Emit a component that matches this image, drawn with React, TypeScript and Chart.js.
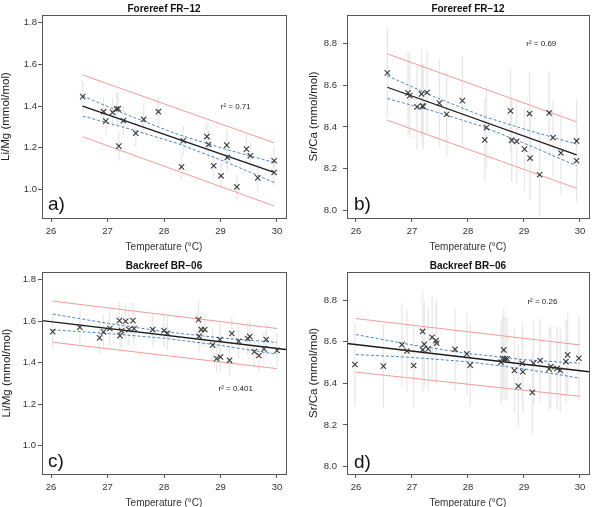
import React, { useEffect, useRef } from 'react';
import { Chart, registerables } from 'chart.js';
Chart.register(...registerables);

// ---------- shared ticks ----------
const xTicks = [26, 27, 28, 29, 30];
const yTicksLiMg = [1.0, 1.2, 1.4, 1.6, 1.8];
const yTicksSrCa = [8.0, 8.2, 8.4, 8.6, 8.8];

// ---------- panel a : Forereef FR-12, Li/Mg ----------
const tempA = [26.56, 26.93, 26.97, 27.09, 27.16, 27.19, 27.2, 27.28, 27.5, 27.64, 27.9, 28.31, 28.34, 28.76, 28.79, 28.88, 29.01, 29.11, 29.12, 29.29, 29.46, 29.53, 29.66, 29.95, 29.95];
const liMgA = [1.445, 1.373, 1.328, 1.370, 1.386, 1.387, 1.208, 1.330, 1.270, 1.336, 1.373, 1.109, 1.234, 1.254, 1.216, 1.114, 1.066, 1.213, 1.154, 1.013, 1.194, 1.162, 1.056, 1.138, 1.082];
const errA = [0.075, 0.07, 0.065, 0.07, 0.08, 0.075, 0.07, 0.07, 0.065, 0.07, 0.07, 0.065, 0.07, 0.07, 0.07, 0.065, 0.065, 0.07, 0.065, 0.06, 0.07, 0.065, 0.065, 0.07, 0.065];
const fitXA = [26.56, 29.95];
const fitYA = [1.40, 1.082];
const predUpA = [1.549, 1.224];
const predLoA = [1.253, 0.922];
const confXA = [26.56, 27.41, 28.26, 29.1, 29.95];
const confUpA = [1.448, 1.351, 1.263, 1.192, 1.130];
const confLoA = [1.352, 1.289, 1.219, 1.132, 1.034];

// ---------- panel b : Forereef FR-12, Sr/Ca ----------
const tempB = [26.56, 26.93, 26.96, 27.09, 27.17, 27.19, 27.2, 27.27, 27.49, 27.62, 27.9, 28.3, 28.33, 28.76, 28.78, 28.87, 29.01, 29.1, 29.11, 29.28, 29.45, 29.52, 29.66, 29.94, 29.94];
const srCaB = [8.659, 8.563, 8.550, 8.496, 8.558, 8.501, 8.498, 8.565, 8.514, 8.461, 8.526, 8.338, 8.397, 8.477, 8.336, 8.331, 8.294, 8.464, 8.251, 8.171, 8.467, 8.349, 8.275, 8.333, 8.238];
const errB = [0.21, 0.2, 0.2, 0.2, 0.21, 0.2, 0.2, 0.2, 0.21, 0.2, 0.21, 0.2, 0.2, 0.2, 0.2, 0.2, 0.2, 0.2, 0.2, 0.2, 0.2, 0.18, 0.2, 0.2, 0.2];
const fitXB = [26.56, 29.94];
const fitYB = [8.590, 8.266];
const predUpB = [8.750, 8.424];
const predLoB = [8.432, 8.106];
const confXB = [26.56, 27.405, 28.25, 29.095, 29.94];
const confUpB = [8.645, 8.544, 8.453, 8.382, 8.318];
const confLoB = [8.536, 8.474, 8.403, 8.312, 8.214];

// ---------- panel c : Backreef BR-06, Li/Mg ----------
const tempC = [26.03, 26.51, 26.86, 26.93, 27.04, 27.21, 27.22, 27.25, 27.32, 27.38, 27.45, 27.47, 27.8, 28.0, 28.06, 28.61, 28.62, 28.66, 28.72, 28.86, 28.93, 28.99, 29.0, 29.16, 29.2, 29.32, 29.48, 29.52, 29.6, 29.68, 29.77, 29.81, 30.0];
const liMgC = [1.549, 1.570, 1.519, 1.548, 1.564, 1.602, 1.530, 1.554, 1.599, 1.559, 1.602, 1.564, 1.559, 1.554, 1.541, 1.607, 1.527, 1.559, 1.559, 1.484, 1.419, 1.511, 1.427, 1.411, 1.540, 1.503, 1.516, 1.525, 1.453, 1.434, 1.466, 1.511, 1.459];
const errC = [0.08, 0.08, 0.08, 0.08, 0.08, 0.09, 0.08, 0.08, 0.09, 0.08, 0.09, 0.08, 0.08, 0.08, 0.08, 0.09, 0.08, 0.08, 0.08, 0.08, 0.07, 0.08, 0.07, 0.07, 0.08, 0.08, 0.08, 0.08, 0.08, 0.08, 0.08, 0.08, 0.08];
const fitXC = [25.84, 30.16];
const fitYC = [1.602, 1.463];
const predXC = [26.03, 30.0];
const predUpC = [1.696, 1.564];
const predLoC = [1.498, 1.371];
const confXC = [26.03, 27.02, 28.01, 29.0, 30.0];
const confUpC = [1.634, 1.588, 1.549, 1.519, 1.497];
const confLoC = [1.558, 1.540, 1.517, 1.483, 1.440];

// ---------- panel d : Backreef BR-06, Sr/Ca ----------
const tempD = [25.98, 26.49, 26.82, 26.91, 27.03, 27.19, 27.19, 27.22, 27.29, 27.36, 27.43, 27.44, 27.77, 27.98, 28.04, 28.59, 28.62, 28.64, 28.66, 28.7, 28.83, 28.9, 28.97, 28.98, 29.15, 29.17, 29.29, 29.45, 29.48, 29.59, 29.65, 29.75, 29.78, 29.98];
const srCaD = [8.491, 8.483, 8.586, 8.556, 8.486, 8.650, 8.561, 8.588, 8.566, 8.622, 8.606, 8.593, 8.564, 8.542, 8.488, 8.502, 8.520, 8.561, 8.518, 8.518, 8.462, 8.387, 8.496, 8.456, 8.357, 8.497, 8.510, 8.470, 8.481, 8.472, 8.462, 8.505, 8.537, 8.521];
const errD = [0.2, 0.2, 0.2, 0.2, 0.2, 0.2, 0.2, 0.21, 0.2, 0.2, 0.2, 0.2, 0.2, 0.2, 0.2, 0.2, 0.2, 0.2, 0.2, 0.2, 0.2, 0.2, 0.2, 0.2, 0.2, 0.2, 0.2, 0.2, 0.2, 0.2, 0.2, 0.2, 0.2, 0.2];
const fitXD = [25.84, 30.16];
const fitYD = [8.592, 8.456];
const predXD = [26.0, 30.0];
const predUpD = [8.712, 8.585];
const predLoD = [8.454, 8.338];
const confXD = [26.0, 27.0, 28.0, 29.0, 30.0];
const confUpD = [8.635, 8.585, 8.544, 8.514, 8.497];
const confLoD = [8.539, 8.525, 8.504, 8.470, 8.425];

const pts = (xs: number[], ys: number[]) => xs.map((x, i) => ({ x, y: ys[i] }));

const RED = '#f39a9a';
const BLUE = '#4a86c5';
const FONT = 'Liberation Sans, Arial, Helvetica, sans-serif';

type PanelCfg = {
  left: number; top: number; w: number; h: number;
  areaLeft: number; padRight: number; padTop: number; xHeight: number;
  title: string; yTitle: string; yTitlePad: number; yTickPad: number; xTitleLH: number; xTitlePad: number;
  yMin: number; yMax: number; yTicks: number[];
  xs: number[]; ys: number[]; errs: number[];
  fitX: number[]; fitY: number[]; predX: number[]; predUp: number[]; predLo: number[];
  confX: number[]; confUp: number[]; confLo: number[];
  r2: string; r2x: number; r2y: number; tag: string; tagDx: number; tagDy: number;
};

const panels: PanelCfg[] = [
  {
    left: 0, top: 0, w: 297, h: 253, areaLeft: 42, padRight: 11, padTop: 15, xHeight: 35,
    title: 'Forereef FR\u221212', yTitle: 'Li/Mg (mmol/mol)', yTitlePad: 0, yTickPad: 1, xTitleLH: 1, xTitlePad: 1,
    yMin: 0.864, yMax: 1.836, yTicks: yTicksLiMg,
    xs: tempA, ys: liMgA, errs: errA, fitX: fitXA, fitY: fitYA, predX: fitXA, predUp: predUpA, predLo: predLoA,
    confX: confXA, confUp: confUpA, confLo: confLoA,
    r2: '0.71', r2x: 29.27, r2y: 1.395, tag: 'a)', tagDx: 6, tagDy: 8,
  },
  {
    left: 297, top: 0, w: 297, h: 253, areaLeft: 50, padRight: 4, padTop: 15, xHeight: 35,
    title: 'Forereef FR\u221212', yTitle: 'Sr/Ca (mmol/mol)', yTitlePad: 11, yTickPad: 6, xTitleLH: 1, xTitlePad: 1,
    yMin: 7.964, yMax: 8.936, yTicks: yTicksSrCa,
    xs: tempB, ys: srCaB, errs: errB, fitX: fitXB, fitY: fitYB, predX: fitXB, predUp: predUpB, predLo: predLoB,
    confX: confXB, confUp: confUpB, confLo: confLoB,
    r2: '0.69', r2x: 29.31, r2y: 8.799, tag: 'b)', tagDx: 7, tagDy: 8,
  },
  {
    left: 0, top: 253, w: 297, h: 254, areaLeft: 42, padRight: 11, padTop: 19, xHeight: 33,
    title: 'Backreef BR\u221206', yTitle: 'Li/Mg (mmol/mol)', yTitlePad: 1, yTickPad: 2, xTitleLH: 0.8, xTitlePad: 0,
    yMin: 0.864, yMax: 1.836, yTicks: yTicksLiMg,
    xs: tempC, ys: liMgC, errs: errC, fitX: fitXC, fitY: fitYC, predX: predXC, predUp: predUpC, predLo: predLoC,
    confX: confXC, confUp: confUpC, confLo: confLoC,
    r2: '0.401', r2x: 29.27, r2y: 1.272, tag: 'c)', tagDx: 6, tagDy: 7,
  },
  {
    left: 297, top: 253, w: 297, h: 254, areaLeft: 50, padRight: 4, padTop: 19, xHeight: 33,
    title: 'Backreef BR\u221206', yTitle: 'Sr/Ca (mmol/mol)', yTitlePad: 11, yTickPad: 6, xTitleLH: 0.8, xTitlePad: 0,
    yMin: 7.964, yMax: 8.936, yTicks: yTicksSrCa,
    xs: tempD, ys: srCaD, errs: errD, fitX: fitXD, fitY: fitYD, predX: predXD, predUp: predUpD, predLo: predLoD,
    confX: confXD, confUp: confUpD, confLo: confLoD,
    r2: '0.26', r2x: 29.33, r2y: 8.793, tag: 'd)', tagDx: 7, tagDy: 6,
  },
];

const decorPlugin = {
  id: 'decor',
  beforeDatasetsDraw(chart: any) {
    const cfg = chart.options.plugins.decor as PanelCfg;
    const { ctx, chartArea } = chart;
    const xs = chart.scales.x, ys = chart.scales.y;
    ctx.save();
    ctx.beginPath();
    ctx.rect(chartArea.left, chartArea.top, chartArea.right - chartArea.left, chartArea.bottom - chartArea.top);
    ctx.clip();
    ctx.strokeStyle = '#e8e8e8';
    ctx.lineWidth = 1.3;
    cfg.xs.forEach((x, i) => {
      const px = xs.getPixelForValue(x);
      ctx.beginPath();
      ctx.moveTo(px, ys.getPixelForValue(cfg.ys[i] - cfg.errs[i]));
      ctx.lineTo(px, ys.getPixelForValue(cfg.ys[i] + cfg.errs[i]));
      ctx.stroke();
    });
    ctx.restore();
  },
  afterDraw(chart: any) {
    const cfg = chart.options.plugins.decor as PanelCfg;
    const { ctx, chartArea } = chart;
    const xs = chart.scales.x, ys = chart.scales.y;
    ctx.save();
    // box
    ctx.strokeStyle = '#555';
    ctx.lineWidth = 1;
    ctx.strokeRect(Math.round(chartArea.left) + 0.5, Math.round(chartArea.top) + 0.5,
      Math.round(chartArea.right - chartArea.left), Math.round(chartArea.bottom - chartArea.top));
    // title
    ctx.fillStyle = '#111';
    ctx.font = `bold 10px ${FONT}`;
    ctx.textAlign = 'center';
    ctx.textBaseline = 'middle';
    ctx.fillText(cfg.title, (chartArea.left + chartArea.right) / 2, chartArea.top - 6);
    // r^2
    ctx.font = `8px ${FONT}`;
    ctx.fillStyle = '#222';
    ctx.fillText(`r\u00B2 = ${cfg.r2}`, xs.getPixelForValue(cfg.r2x), ys.getPixelForValue(cfg.r2y));
    // panel tag
    ctx.font = `19px ${FONT}`;
    ctx.textAlign = 'left';
    ctx.textBaseline = 'alphabetic';
    ctx.fillStyle = '#111';
    ctx.fillText(cfg.tag, chartArea.left + cfg.tagDx, chartArea.bottom - cfg.tagDy);
    ctx.restore();
  },
};

function makeChart(canvas: HTMLCanvasElement, p: PanelCfg) {
  const lineDs = (data: any[], color: string, width: number, dash: number[] = []) => ({
    data, showLine: true, borderColor: color, borderWidth: width, borderDash: dash,
    pointRadius: 0, fill: false, tension: 0,
  });
  return new Chart(canvas, {
    type: 'scatter',
    data: {
      datasets: [
        {
          data: pts(p.xs, p.ys), pointStyle: 'crossRot', pointRadius: 3.8, pointBorderWidth: 1.1,
          borderColor: '#3a3a3a', backgroundColor: '#3a3a3a', showLine: false,
        } as any,
        lineDs(pts(p.fitX, p.fitY), '#1a1a1a', 1.3),
        lineDs(pts(p.confX, p.confUp), BLUE, 1, [3, 2]),
        lineDs(pts(p.confX, p.confLo), BLUE, 1, [3, 2]),
        lineDs(pts(p.predX, p.predUp), RED, 1),
        lineDs(pts(p.predX, p.predLo), RED, 1),
      ],
    },
    options: {
      animation: false,
      responsive: false,
      maintainAspectRatio: false,
      devicePixelRatio: 1,
      layout: { padding: { left: 0, right: p.padRight, top: p.padTop, bottom: 0 } },
      plugins: {
        legend: { display: false },
        tooltip: { enabled: false },
        title: { display: false },
        decor: p,
      } as any,
      scales: {
        x: {
          type: 'linear', min: 25.84, max: 30.16,
          afterFit: (s: any) => { s.height = p.xHeight; },
          afterBuildTicks: (s: any) => { s.ticks = xTicks.map((v) => ({ value: v })); },
          ticks: { color: '#333', font: { family: FONT, size: 9.5 }, padding: 4, callback: (v: any) => String(v) },
          grid: { display: true, drawOnChartArea: false, drawTicks: true, tickLength: 4, color: '#555' },
          border: { display: false },
          title: { display: true, text: 'Temperature (\u00B0C)', color: '#333', font: { family: FONT, size: 10, lineHeight: p.xTitleLH }, padding: { top: 0, bottom: p.xTitlePad } },
        },
        y: {
          type: 'linear', min: p.yMin, max: p.yMax,
          afterFit: (s: any) => { s.width = p.areaLeft; },
          afterBuildTicks: (s: any) => { s.ticks = p.yTicks.map((v) => ({ value: v })); },
          ticks: { color: '#333', font: { family: FONT, size: 9.5 }, padding: p.yTickPad, callback: (v: any) => Number(v).toFixed(1) },
          grid: { display: true, drawOnChartArea: false, drawTicks: true, tickLength: 4, color: '#555' },
          border: { display: false },
          title: { display: true, text: p.yTitle, color: '#222', font: { family: FONT, size: 11.5, lineHeight: 1 }, padding: { top: p.yTitlePad, bottom: 0 } },
        },
      },
    } as any,
    plugins: [decorPlugin],
  });
}

function Panel({ p }: { p: PanelCfg }) {
  const ref = useRef<HTMLCanvasElement | null>(null);
  useEffect(() => {
    if (!ref.current) return;
    const chart = makeChart(ref.current, p);
    return () => chart.destroy();
  }, [p]);
  return (
    <canvas
      ref={ref}
      width={p.w}
      height={p.h}
      style={{ position: 'absolute', left: p.left, top: p.top, width: p.w, height: p.h }}
    />
  );
}

export default function App() {
  return (
    <div style={{ position: 'absolute', left: 0, top: 0, width: 594, height: 507, background: '#fff', overflow: 'hidden' }}>
      {panels.map((p, i) => <Panel key={i} p={p} />)}
    </div>
  );
}
